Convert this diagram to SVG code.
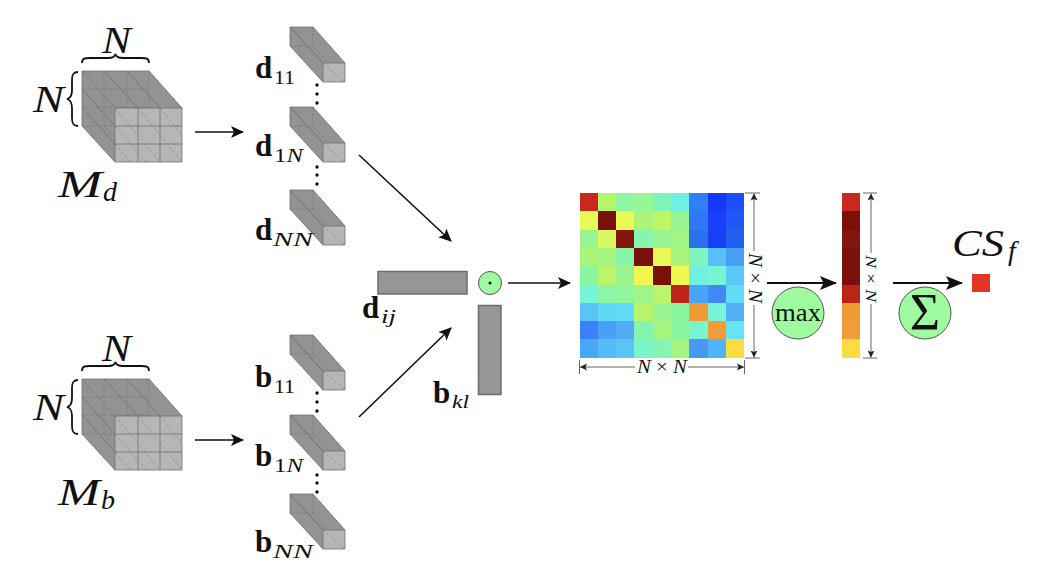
<svg xmlns="http://www.w3.org/2000/svg" width="1044" height="576" viewBox="0 0 1044 576">
<style>
text{font-family:"Liberation Serif","Times New Roman",serif;fill:#111}
.m{font-style:italic;font-size:38px}
.b{font-weight:bold;font-size:31px}
.s{font-size:19px}
.si{font-size:19px;font-style:italic}
.sub{font-size:28px;font-style:italic}
.dim{font-size:18px}
.dimv{font-size:15px}
.i{font-style:italic}
.arrow{fill:none;stroke:#111;stroke-width:1.6}
.thick{fill:none;stroke:#111;stroke-width:2}
.brace{fill:none;stroke:#111;stroke-width:1.8}
.dimline{fill:none;stroke:#666;stroke-width:1}
.green{fill:#9ffb9f;stroke:#555;stroke-width:1}
.bar{fill:#969696;stroke:#6c6c6c;stroke-width:1.5}
.top{fill:#939393}
.front{fill:#b6b6b6}
.edge{stroke:#6e6e6e;stroke-width:.8;fill:none}
.hid{stroke:#707070;stroke-width:.6;stroke-dasharray:2 1.500;fill:none}
.hid2{stroke:#7c7c7c;stroke-width:.6;stroke-dasharray:3 2;fill:none}
.dot{fill:#111}
</style>
<defs>
<marker id="ah" markerWidth="14" markerHeight="12" refX="12" refY="6" orient="auto" markerUnits="userSpaceOnUse"><path d="M0 0L13 6L0 12L3 6Z" fill="#111"/></marker>
<marker id="ahb" markerWidth="18" markerHeight="14" refX="16" refY="7" orient="auto" markerUnits="userSpaceOnUse"><path d="M0 0L17 7L0 14L3.500 7Z" fill="#111"/></marker>
<marker id="dst" markerWidth="8" markerHeight="8" refX="7" refY="4" orient="auto" markerUnits="userSpaceOnUse"><path d="M0 .5L7 4L0 7.500L1.500 4Z" fill="#222"/></marker>
<g id="cube">
<path class="top" d="M82 71H149L182 108H115Z"/>
<path class="top" d="M82 71L115 108V162L82 126Z"/>
<path class="edge" d="M82 71H149L182 108M82 71L115 108M82 71V126L115 162"/>
<path class="hid" d="M149 71V126L182 162M82 126H149M82 89H149M82 107H149M104 71V126M127 71V126M104 126L138 162M127 126L160 162"/>
<path class="edge" d="M82 89L115 126M82 107L115 144M104 71L138 108M127 71L160 108"/>
<path class="front" d="M115 108H182V162H115Z"/>
<path class="hid2" d="M115 108L160 162M138 108L182 162M160 108L182 135M115 126L146 162M115 144L130 162"/>
<path class="edge" d="M115 108H182V162H115ZM115 126H182M115 144H182M138 108V162M160 108V162"/>
</g>
<g id="slice">
<path class="top" d="M290 27H313L345 63H323Z"/>
<path class="top" d="M290 27L323 63V82L290 46Z"/>
<path class="hid" d="M313 27V46L345 82M290 46H313"/>
<path class="front" d="M323 63H345V82H323Z"/>
<path class="hid2" d="M323 63L345 82"/>
<path class="edge" d="M290 27H313L345 63H323ZM290 27V46L323 82M290 27L323 63V82H345V63"/>
</g>
</defs>
<rect width="1044" height="576" fill="#fff"/>

<g id="connectors">
<path class="arrow" marker-end="url(#ah)" d="M195 132H243"/>
<path class="arrow" marker-end="url(#ah)" d="M195 440H243"/>
<path class="arrow" marker-end="url(#ah)" d="M359 155L451 241"/>
<path class="arrow" marker-end="url(#ah)" d="M359 417L451 328"/>
<path class="arrow" marker-end="url(#ah)" d="M508 283H570"/>
<path class="thick" marker-end="url(#ahb)" d="M767 283H836"/>
<path class="thick" marker-end="url(#ahb)" d="M893 283H962"/>
</g>

<g id="cube-d">
<use href="#cube"/>
<path class="brace" d="M82 63C82 58 85 58 90 58H108C113 58 115 57 115.500 54C116 57 118 58 123 58H141C146 58 149 58 149 63"/>
<path class="brace" d="M78 72C73 72 72 75 72 80V90C72 95 71 98 67 99C71 100 72 103 72 108V118C72 123 73 126 78 126"/>
<text class="m" x="102" y="53" textLength="29" lengthAdjust="spacingAndGlyphs">N</text>
<text class="m" x="33" y="112" textLength="31" lengthAdjust="spacingAndGlyphs">N</text>
<text class="m" x="58" y="197" textLength="44" lengthAdjust="spacingAndGlyphs">M</text>
<text class="sub" x="103" y="201">d</text>
</g>
<g id="cube-b" transform="translate(0 308)">
<use href="#cube"/>
<path class="brace" d="M82 63C82 58 85 58 90 58H108C113 58 115 57 115.500 54C116 57 118 58 123 58H141C146 58 149 58 149 63"/>
<path class="brace" d="M78 72C73 72 72 75 72 80V90C72 95 71 98 67 99C71 100 72 103 72 108V118C72 123 73 126 78 126"/>
<text class="m" x="102" y="53" textLength="29" lengthAdjust="spacingAndGlyphs">N</text>
<text class="m" x="33" y="112" textLength="31" lengthAdjust="spacingAndGlyphs">N</text>
<text class="m" x="58" y="197" textLength="42" lengthAdjust="spacingAndGlyphs">M</text>
<text class="sub" x="101" y="201">b</text>
</g>

<g id="d11"><use href="#slice"/><text class="b" x="255" y="78">d</text><text class="s" x="274" y="84" textLength="21" lengthAdjust="spacingAndGlyphs">11</text></g>
<g id="dots-d1" class="dot"><circle cx="317" cy="85" r="1.700"/><circle cx="317" cy="94" r="1.700"/><circle cx="317" cy="103" r="1.700"/></g>
<g id="d1N"><use href="#slice" y="80"/><text class="b" x="255" y="156">d</text><text class="s" x="274" y="162" textLength="29" lengthAdjust="spacingAndGlyphs">1<tspan class="i">N</tspan></text></g>
<g id="dots-d2" class="dot"><circle cx="317" cy="167" r="1.700"/><circle cx="317" cy="175" r="1.700"/><circle cx="317" cy="184" r="1.700"/></g>
<g id="dNN"><use href="#slice" y="163"/><text class="b" x="255" y="240">d</text><text class="si" x="273" y="246" textLength="40" lengthAdjust="spacingAndGlyphs">NN</text></g>

<g id="b11"><use href="#slice" y="308"/><text class="b" x="255" y="387">b</text><text class="s" x="274" y="393" textLength="21" lengthAdjust="spacingAndGlyphs">11</text></g>
<g id="dots-b1" class="dot"><circle cx="317" cy="393" r="1.700"/><circle cx="317" cy="402" r="1.700"/><circle cx="317" cy="411" r="1.700"/></g>
<g id="b1N"><use href="#slice" y="388"/><text class="b" x="255" y="466">b</text><text class="s" x="274" y="472" textLength="29" lengthAdjust="spacingAndGlyphs">1<tspan class="i">N</tspan></text></g>
<g id="dots-b2" class="dot"><circle cx="317" cy="475" r="1.700"/><circle cx="317" cy="483" r="1.700"/><circle cx="317" cy="492" r="1.700"/></g>
<g id="bNN"><use href="#slice" y="467"/><text class="b" x="255" y="552">b</text><text class="si" x="273" y="558" textLength="40" lengthAdjust="spacingAndGlyphs">NN</text></g>

<g id="dij"><rect class="bar" x="378" y="271.500" width="89" height="22.500"/><text class="b" x="362" y="318">d</text><text class="si" x="381" y="323" textLength="15" lengthAdjust="spacingAndGlyphs">ij</text></g>
<g id="odot"><circle class="green" cx="490" cy="283" r="11.500"/><circle cx="490" cy="283" r="1.500" fill="#111"/></g>
<g id="bkl"><rect class="bar" x="478.500" y="305.500" width="22.500" height="89"/><text class="b" x="433" y="403">b</text><text class="si" x="452" y="408" textLength="17" lengthAdjust="spacingAndGlyphs">kl</text></g>

<g id="matrix" shape-rendering="crispEdges">
<rect x="579.500" y="193" width="18.300" height="18.300" fill="#c8281e"/><rect x="597.800" y="193" width="18.300" height="18.300" fill="#b4f56a"/><rect x="616.100" y="193" width="18.300" height="18.300" fill="#8ef5a0"/><rect x="634.400" y="193" width="18.300" height="18.300" fill="#96f596"/><rect x="652.700" y="193" width="18.300" height="18.300" fill="#80f5b8"/><rect x="671" y="193" width="18.300" height="18.300" fill="#70f0e0"/><rect x="689.300" y="193" width="18.300" height="18.300" fill="#3080f5"/><rect x="707.600" y="193" width="18.300" height="18.300" fill="#1438f8"/><rect x="725.900" y="193" width="18.300" height="18.300" fill="#1c50f5"/>
<rect x="579.500" y="211.300" width="18.300" height="18.300" fill="#e8f855"/><rect x="597.800" y="211.300" width="18.300" height="18.300" fill="#7a100a"/><rect x="616.100" y="211.300" width="18.300" height="18.300" fill="#e8f855"/><rect x="634.400" y="211.300" width="18.300" height="18.300" fill="#a8f57a"/><rect x="652.700" y="211.300" width="18.300" height="18.300" fill="#c0f568"/><rect x="671" y="211.300" width="18.300" height="18.300" fill="#96f590"/><rect x="689.300" y="211.300" width="18.300" height="18.300" fill="#3078f5"/><rect x="707.600" y="211.300" width="18.300" height="18.300" fill="#1840f8"/><rect x="725.900" y="211.300" width="18.300" height="18.300" fill="#2058f5"/>
<rect x="579.500" y="229.600" width="18.300" height="18.300" fill="#96f590"/><rect x="597.800" y="229.600" width="18.300" height="18.300" fill="#d8f860"/><rect x="616.100" y="229.600" width="18.300" height="18.300" fill="#85140c"/><rect x="634.400" y="229.600" width="18.300" height="18.300" fill="#85f5b0"/><rect x="652.700" y="229.600" width="18.300" height="18.300" fill="#98f590"/><rect x="671" y="229.600" width="18.300" height="18.300" fill="#a0f585"/><rect x="689.300" y="229.600" width="18.300" height="18.300" fill="#2c70f0"/><rect x="707.600" y="229.600" width="18.300" height="18.300" fill="#1840f8"/><rect x="725.900" y="229.600" width="18.300" height="18.300" fill="#2460f0"/>
<rect x="579.500" y="247.900" width="18.300" height="18.300" fill="#a8f57a"/><rect x="597.800" y="247.900" width="18.300" height="18.300" fill="#a4f580"/><rect x="616.100" y="247.900" width="18.300" height="18.300" fill="#88f5a8"/><rect x="634.400" y="247.900" width="18.300" height="18.300" fill="#7a100a"/><rect x="652.700" y="247.900" width="18.300" height="18.300" fill="#e8f855"/><rect x="671" y="247.900" width="18.300" height="18.300" fill="#a8f57a"/><rect x="689.300" y="247.900" width="18.300" height="18.300" fill="#80f5c0"/><rect x="707.600" y="247.900" width="18.300" height="18.300" fill="#58c0f8"/><rect x="725.900" y="247.900" width="18.300" height="18.300" fill="#48a0f5"/>
<rect x="579.500" y="266.200" width="18.300" height="18.300" fill="#8cf5a0"/><rect x="597.800" y="266.200" width="18.300" height="18.300" fill="#bcf56c"/><rect x="616.100" y="266.200" width="18.300" height="18.300" fill="#98f590"/><rect x="634.400" y="266.200" width="18.300" height="18.300" fill="#f0f850"/><rect x="652.700" y="266.200" width="18.300" height="18.300" fill="#7a100a"/><rect x="671" y="266.200" width="18.300" height="18.300" fill="#f0f850"/><rect x="689.300" y="266.200" width="18.300" height="18.300" fill="#70f0e0"/><rect x="707.600" y="266.200" width="18.300" height="18.300" fill="#78f5d0"/><rect x="725.900" y="266.200" width="18.300" height="18.300" fill="#58c8f8"/>
<rect x="579.500" y="284.500" width="18.300" height="18.300" fill="#78f5d8"/><rect x="597.800" y="284.500" width="18.300" height="18.300" fill="#8cf5a8"/><rect x="616.100" y="284.500" width="18.300" height="18.300" fill="#90f59c"/><rect x="634.400" y="284.500" width="18.300" height="18.300" fill="#a0f588"/><rect x="652.700" y="284.500" width="18.300" height="18.300" fill="#bcf56c"/><rect x="671" y="284.500" width="18.300" height="18.300" fill="#bc2418"/><rect x="689.300" y="284.500" width="18.300" height="18.300" fill="#48a4f8"/><rect x="707.600" y="284.500" width="18.300" height="18.300" fill="#4088f5"/><rect x="725.900" y="284.500" width="18.300" height="18.300" fill="#60dcf8"/>
<rect x="579.500" y="302.800" width="18.300" height="18.300" fill="#58c4f8"/><rect x="597.800" y="302.800" width="18.300" height="18.300" fill="#60d8f8"/><rect x="616.100" y="302.800" width="18.300" height="18.300" fill="#60dcf8"/><rect x="634.400" y="302.800" width="18.300" height="18.300" fill="#b8f56c"/><rect x="652.700" y="302.800" width="18.300" height="18.300" fill="#98f590"/><rect x="671" y="302.800" width="18.300" height="18.300" fill="#8cf5a0"/><rect x="689.300" y="302.800" width="18.300" height="18.300" fill="#f09a34"/><rect x="707.600" y="302.800" width="18.300" height="18.300" fill="#78f5d8"/><rect x="725.900" y="302.800" width="18.300" height="18.300" fill="#50b0f5"/>
<rect x="579.500" y="321.100" width="18.300" height="18.300" fill="#3c80f8"/><rect x="597.800" y="321.100" width="18.300" height="18.300" fill="#48a0f8"/><rect x="616.100" y="321.100" width="18.300" height="18.300" fill="#50acf5"/><rect x="634.400" y="321.100" width="18.300" height="18.300" fill="#84f5b0"/><rect x="652.700" y="321.100" width="18.300" height="18.300" fill="#a4f580"/><rect x="671" y="321.100" width="18.300" height="18.300" fill="#8cf5a4"/><rect x="689.300" y="321.100" width="18.300" height="18.300" fill="#78f5d0"/><rect x="707.600" y="321.100" width="18.300" height="18.300" fill="#f09c38"/><rect x="725.900" y="321.100" width="18.300" height="18.300" fill="#68e4f0"/>
<rect x="579.500" y="339.400" width="18.300" height="18.600" fill="#48a8f5"/><rect x="597.800" y="339.400" width="18.300" height="18.600" fill="#54bcf8"/><rect x="616.100" y="339.400" width="18.300" height="18.600" fill="#58c4f8"/><rect x="634.400" y="339.400" width="18.300" height="18.600" fill="#7cf5c8"/><rect x="652.700" y="339.400" width="18.300" height="18.600" fill="#84f5b4"/><rect x="671" y="339.400" width="18.300" height="18.600" fill="#a4f580"/><rect x="689.300" y="339.400" width="18.300" height="18.600" fill="#4898f8"/><rect x="707.600" y="339.400" width="18.300" height="18.600" fill="#50b4f8"/><rect x="725.900" y="339.400" width="18.300" height="18.600" fill="#fcdc40"/>
</g>
<g id="matrix-dim-right">
<path class="dimline" d="M745 193H760M745 358H760"/>
<path class="dimline" marker-end="url(#dst)" d="M754 251V193.500"/>
<path class="dimline" marker-end="url(#dst)" d="M754 305V357.500"/>
<text class="dim" transform="translate(749 253) rotate(90)" textLength="50" lengthAdjust="spacingAndGlyphs"><tspan class="i">N</tspan> × <tspan class="i">N</tspan></text>
</g>
<g id="matrix-dim-bottom">
<path class="dimline" d="M579.500 360V374M744.500 360V374"/>
<path class="dimline" marker-end="url(#dst)" d="M635 367H580"/>
<path class="dimline" marker-end="url(#dst)" d="M688 367H744"/>
<text class="dim" x="637" y="373" textLength="50" lengthAdjust="spacingAndGlyphs"><tspan class="i">N</tspan> × <tspan class="i">N</tspan></text>
</g>

<g id="max"><circle class="green" cx="798" cy="313" r="26"/><text x="775" y="321" style="font-size:25px" textLength="46" lengthAdjust="spacingAndGlyphs">max</text></g>

<g id="vector" shape-rendering="crispEdges">
<rect x="841.500" y="193" width="18" height="18.300" fill="#c8281e"/>
<rect x="841.500" y="211.300" width="18" height="18.300" fill="#7a100a"/>
<rect x="841.500" y="229.600" width="18" height="18.300" fill="#85140c"/>
<rect x="841.500" y="247.900" width="18" height="18.300" fill="#7a100a"/>
<rect x="841.500" y="266.200" width="18" height="18.300" fill="#7a100a"/>
<rect x="841.500" y="284.500" width="18" height="18.300" fill="#bc2418"/>
<rect x="841.500" y="302.800" width="18" height="18.300" fill="#f09a34"/>
<rect x="841.500" y="321.100" width="18" height="18.300" fill="#f09c38"/>
<rect x="841.500" y="339.400" width="18" height="18.600" fill="#fcdc40"/>
</g>
<g id="vector-dim">
<path class="dimline" d="M863 193H877M863 358H877"/>
<path class="dimline" marker-end="url(#dst)" d="M871 253V193.500"/>
<path class="dimline" marker-end="url(#dst)" d="M871 304V357.500"/>
<text class="dimv" transform="translate(866 255) rotate(90)" textLength="47" lengthAdjust="spacingAndGlyphs"><tspan class="i">N</tspan> × <tspan class="i">N</tspan></text>
</g>

<g id="sum"><circle class="green" cx="925" cy="313" r="26"/><text x="925" y="330" text-anchor="middle" style="font-size:52px">Σ</text></g>
<g id="csf"><rect x="972" y="274" width="18" height="18" fill="#e43424"/><text class="m" x="952" y="256" textLength="52" lengthAdjust="spacingAndGlyphs">CS</text><text class="sub" x="1008" y="260">f</text></g>
</svg>
